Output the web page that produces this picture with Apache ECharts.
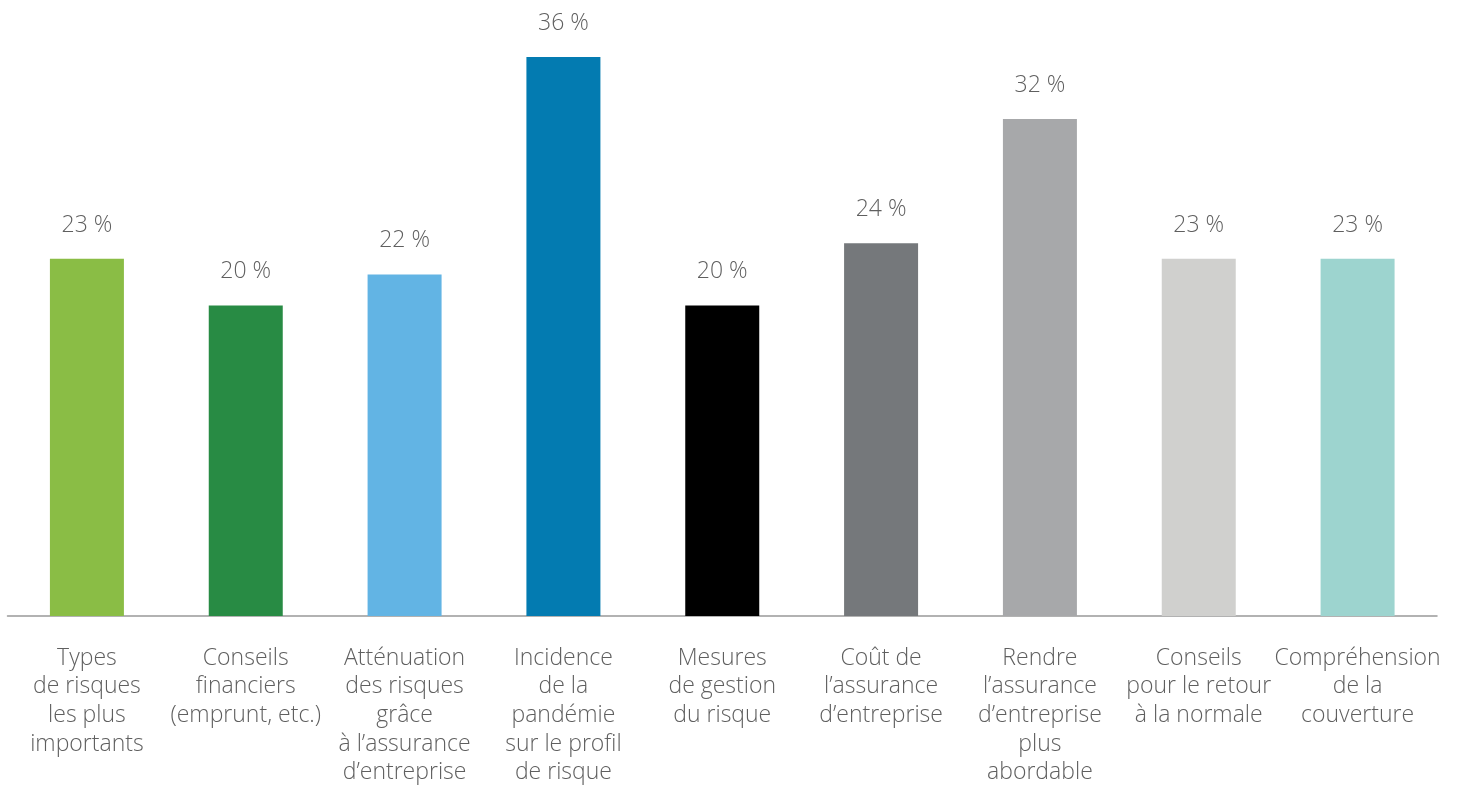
<!DOCTYPE html>
<html>
<head>
<meta charset="utf-8">
<script src="https://cdn.jsdelivr.net/npm/echarts@6/dist/echarts.min.js"></script>
<style>
  html, body { margin: 0; padding: 0; background: #ffffff; }
  #chart { width: 1460px; height: 787px; }
</style>
</head>
<body>
<div id="chart"></div>
<script>
// Categories (line breaks as set in the labels)
const categories = [
  "Types\nde risques\nles plus\nimportants",
  "Conseils\nfinanciers\n(emprunt, etc.)",
  "Atténuation\ndes risques\ngrâce\nà l’assurance\nd’entreprise",
  "Incidence\nde la\npandémie\nsur le profil\nde risque",
  "Mesures\nde gestion\ndu risque",
  "Coût de\nl’assurance\nd’entreprise",
  "Rendre\nl’assurance\nd’entreprise\nplus\nabordable",
  "Conseils\npour le retour\nà la normale",
  "Compréhension\nde la\ncouverture"
];

// Share of respondents (%)
const values = [23, 20, 22, 36, 20, 24, 32, 23, 23];

// Bar colours, one per category
const barColors = [
  "#8ABD45", "#288B44", "#62B4E4", "#037BB1", "#000000",
  "#75787B", "#A7A8AA", "#D0D0CE", "#9DD4CF"
];

const FONT = "'Open Sans', 'Noto Sans', sans-serif";
const TEXT_COLOR = "#5f5f5f";

const chart = echarts.init(document.getElementById("chart"), null, { renderer: "canvas" });

chart.setOption({
  animation: false,
  backgroundColor: "#ffffff",
  grid: { left: 7.5, right: 23, top: 57, bottom: 169, containLabel: false },
  xAxis: {
    type: "category",
    data: categories,
    axisLine: { show: true, lineStyle: { color: "#999999", width: 1.5 } },
    axisTick: { show: false },
    axisLabel: {
      interval: 0,
      margin: 28,
      color: TEXT_COLOR,
      fontFamily: FONT,
      fontWeight: 300,
      fontSize: 23,
      lineHeight: 28.6,
      align: "center"
    }
  },
  yAxis: {
    type: "value",
    min: 0,
    max: 36,
    show: false,
    splitLine: { show: false }
  },
  series: [{
    type: "bar",
    data: values.map((v, i) => ({ value: v, itemStyle: { color: barColors[i] } })),
    barWidth: 74,
    label: {
      show: true,
      position: "top",
      distance: 22,
      formatter: p => p.value + " %",
      color: TEXT_COLOR,
      fontFamily: FONT,
      fontWeight: 300,
      fontSize: 23
    }
  }]
});
</script>
</body>
</html>
